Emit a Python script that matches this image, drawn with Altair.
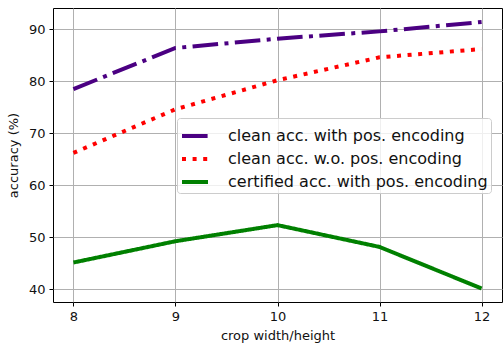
import altair as alt
import pandas as pd

crop = [8, 9, 10, 11, 12]
clean_pos = [78.5, 86.4, 88.2, 89.6, 91.4]
clean_nopos = [66.2, 74.6, 80.2, 84.6, 86.2]
cert_pos = [45.1, 49.2, 52.3, 48.1, 40.1]
names = ["clean acc. with pos. encoding",
         "clean acc. w.o. pos. encoding",
         "certified acc. with pos. encoding"]
colors = ["#4b0082", "#ff0000", "#008000"]
dashes = [[25.6, 6.4, 4, 6.4], [4, 6.6], [1, 0]]

rows = []
for n, vals in zip(names, [clean_pos, clean_nopos, cert_pos]):
    for c, v in zip(crop, vals):
        rows.append({"crop": c, "acc": v, "series": n})
df = pd.DataFrame(rows)

chart = alt.Chart(df).mark_line(strokeWidth=4, strokeCap="butt").encode(
    x=alt.X("crop:Q", scale=alt.Scale(domain=[7.8, 12.2], nice=False, zero=False),
            axis=alt.Axis(values=crop, format="d", title="crop width/height")),
    y=alt.Y("acc:Q", scale=alt.Scale(domain=[37.5, 94.1], nice=False, zero=False),
            axis=alt.Axis(values=[40, 50, 60, 70, 80, 90], title="accuracy (%)")),
    color=alt.Color("series:N", sort=names,
                    scale=alt.Scale(domain=names, range=colors),
                    legend=alt.Legend(title=None, orient="none", legendX=124, legendY=110,
                                      labelFontSize=16, symbolType="stroke",
                                      symbolSize=676, symbolStrokeWidth=4,
                                      labelFont="DejaVu Sans", labelColor="#111",
                                      labelLimit=0,
                                      rowPadding=-2, padding=3, labelOffset=18,
                                      fillColor="rgba(255,255,255,0.8)",
                                      strokeColor="#cccccc", cornerRadius=3)),
    strokeDash=alt.StrokeDash("series:N", sort=names,
                              scale=alt.Scale(domain=names, range=dashes),
                              legend=None),
    order=alt.Order("crop:Q"),
).properties(
    width=449, height=294,
    autosize=alt.AutoSizeParams(type="none"),
    padding={"left": 53, "top": 8, "right": 1, "bottom": 46},
).configure_view(
    stroke="black", strokeWidth=1
).configure_axis(
    grid=True, gridColor="#b0b0b0", gridWidth=1,
    domain=False, tickColor="black", tickSize=4,
    labelFont="DejaVu Sans", labelFontSize=13, labelColor="#111",
    titleFont="DejaVu Sans", titleFontSize=13, titleFontWeight="normal", titleColor="#111",
    labelPadding=4,
).configure_axisY(titlePadding=8).configure_axisX(titlePadding=6)

chart.save("out.html", embed_options={"renderer": "svg", "actions": False})
